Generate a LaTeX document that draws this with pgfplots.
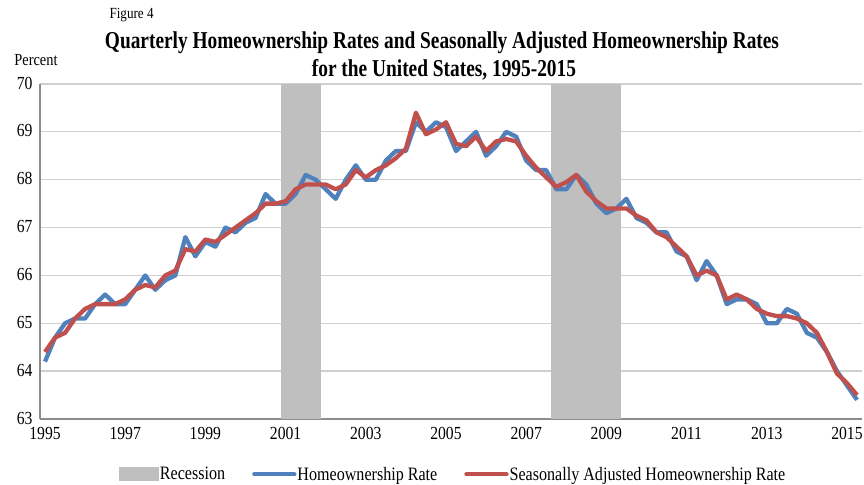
\documentclass[border=0pt]{standalone}
\usepackage{fontspec}
\setmainfont{Liberation Serif}[FakeStretch=0.85]
\newfontfamily\titlefont{Liberation Serif}[FakeStretch=0.80]
\usepackage{pgfplots}
\usepackage{pgfplotstable}
\pgfplotsset{compat=1.18}
\definecolor{hblue}{HTML}{4F81BD}
\definecolor{hred}{HTML}{C0504D}
\definecolor{recgray}{HTML}{BFBFBF}
\definecolor{gridgray}{HTML}{D0D0D0}
\definecolor{axisgray}{HTML}{8C8C8C}

\pgfplotstableread{
x rate sa
1995.00 64.2 64.4
1995.25 64.7 64.7
1995.50 65.0 64.8
1995.75 65.1 65.1
1996.00 65.1 65.3
1996.25 65.4 65.4
1996.50 65.6 65.4
1996.75 65.4 65.4
1997.00 65.4 65.5
1997.25 65.7 65.7
1997.50 66.0 65.8
1997.75 65.7 65.75
1998.00 65.9 66.0
1998.25 66.0 66.1
1998.50 66.8 66.55
1998.75 66.4 66.5
1999.00 66.7 66.75
1999.25 66.6 66.7
1999.50 67.0 66.85
1999.75 66.9 67.0
2000.00 67.1 67.15
2000.25 67.2 67.3
2000.50 67.7 67.5
2000.75 67.5 67.5
2001.00 67.5 67.55
2001.25 67.7 67.8
2001.50 68.1 67.9
2001.75 68.0 67.9
2002.00 67.8 67.9
2002.25 67.6 67.8
2002.50 68.0 67.9
2002.75 68.3 68.2
2003.00 68.0 68.05
2003.25 68.0 68.2
2003.50 68.4 68.3
2003.75 68.6 68.45
2004.00 68.6 68.65
2004.25 69.2 69.4
2004.50 69.0 68.95
2004.75 69.2 69.05
2005.00 69.1 69.2
2005.25 68.6 68.75
2005.50 68.8 68.7
2005.75 69.0 68.9
2006.00 68.5 68.6
2006.25 68.7 68.8
2006.50 69.0 68.85
2006.75 68.9 68.8
2007.00 68.4 68.5
2007.25 68.2 68.25
2007.50 68.2 68.05
2007.75 67.8 67.85
2008.00 67.8 67.95
2008.25 68.1 68.1
2008.50 67.9 67.75
2008.75 67.5 67.55
2009.00 67.3 67.4
2009.25 67.4 67.4
2009.50 67.6 67.4
2009.75 67.2 67.25
2010.00 67.1 67.15
2010.25 66.9 66.9
2010.50 66.9 66.8
2010.75 66.5 66.6
2011.00 66.4 66.4
2011.25 65.9 66.0
2011.50 66.3 66.1
2011.75 66.0 66.0
2012.00 65.4 65.5
2012.25 65.5 65.6
2012.50 65.5 65.5
2012.75 65.4 65.3
2013.00 65.0 65.2
2013.25 65.0 65.15
2013.50 65.3 65.15
2013.75 65.2 65.1
2014.00 64.8 65.0
2014.25 64.7 64.8
2014.50 64.4 64.4
2014.75 64.0 63.95
2015.00 63.7 63.75
2015.25 63.4 63.5
}\homedata

\begin{document}
\begin{tikzpicture}[x=1bp,y=1bp]
\path[use as bounding box] (-40,-66) rectangle (824,419);
\begin{axis}[
  scale only axis, width=822bp, height=335bp,
  at={(0,0)}, anchor=south west,
  xmin=1994.875, xmax=2015.375, ymin=63, ymax=70,
  xtick={1995,1997,...,2015}, ytick={63,64,...,70},
  major tick length=0pt,
  axis x line=bottom, axis y line=left,
  axis line style={-, draw=axisgray, line width=1.3bp},
  ymajorgrids, grid style={gridgray, line width=1.3bp},
  /pgf/number format/assume math mode=true,
  /pgf/number format/1000 sep={},
  tick label style={font=\fontsize{18.5}{20}\selectfont},
  xticklabel style={yshift=-5bp},
  yticklabel style={xshift=-4bp, yshift=1bp},
  legend columns=3,
  legend style={at={(0.502,-0.165)}, anchor=center, draw=none, fill=none,
    font=\fontsize{19}{21}\selectfont,
    /tikz/every even column/.append style={column sep=26bp},
    nodes={inner sep=1bp}},
]
\addplot[fill=recgray, draw=none,
  legend image code/.code={\fill[recgray] (0bp,-7bp) rectangle (40bp,7bp);}]
  coordinates {(2000.875,70) (2001.875,70)} \closedcycle;
\addlegendentry{Recession}
\addplot[fill=recgray, draw=none, forget plot]
  coordinates {(2007.625,70) (2009.375,70)} \closedcycle;
\addplot[hblue, line width=4.3bp, line join=round,
  legend image code/.code={\draw[hblue, line width=4.3bp, line cap=round] (0bp,0bp) -- (40bp,0bp);}]
  table[x=x, y=rate] {\homedata};
\addlegendentry{Homeownership Rate}
\addplot[hred, line width=4.3bp, line join=round,
  legend image code/.code={\draw[hred, line width=4.3bp, line cap=round] (0bp,0bp) -- (40bp,0bp);}]
  table[x=x, y=sa] {\homedata};
\addlegendentry{Seasonally Adjusted Homeownership Rate}
\end{axis}
\node[anchor=west, font=\fontsize{15.5}{18}\selectfont] at (66,404) {Figure 4};
\node[font=\titlefont\bfseries\fontsize{24.3}{26}\selectfont] at (402,376) {Quarterly Homeownership Rates and Seasonally Adjusted Homeownership Rates};
\node[font=\titlefont\bfseries\fontsize{24.3}{26}\selectfont] at (404,349) {for the United States, 1995-2015};
\node[font=\fontsize{17}{19}\selectfont] at (-4,359) {Percent};
\end{tikzpicture}
\end{document}
